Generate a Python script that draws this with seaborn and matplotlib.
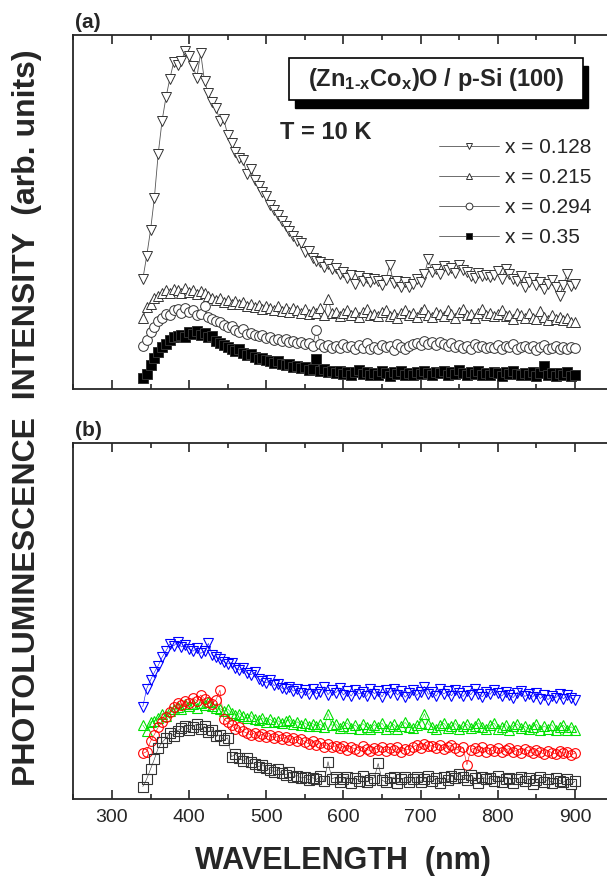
import numpy as np
import matplotlib
matplotlib.use("Agg")
import matplotlib.pyplot as plt
from matplotlib.patches import Rectangle
from matplotlib.ticker import MultipleLocator
import seaborn as sns

# wavelength grid (nm), values in % of panel height
wavelength = np.arange(340, 901, 5)

# panel (a), T = 10 K
a_x0128 = [31.0, 37.5, 44.8, 54.0, 66.5, 75.8, 82.4, 87.6, 92.3, 91.5,
           92.8, 95.6, 94.1, 91.2, 88.0, 95.0, 86.9, 83.5, 81.0, 79.3,
           75.8, 76.2, 71.8, 69.5, 67.0, 65.2, 64.6, 60.8, 62.3, 59.1,
           57.4, 55.8, 54.6, 52.1, 50.7, 49.3, 47.5, 46.0, 44.6, 43.3,
           41.8, 41.2, 38.6, 38.9, 37.1, 36.2, 35.8, 34.4, 35.2, 33.8,
           34.1, 32.5, 33.0, 31.4, 32.2, 29.8, 31.9, 30.6, 31.5, 30.2,
           31.0, 30.4, 29.3, 30.8, 35.0, 29.9, 30.5, 28.9, 30.1, 28.7,
           29.6, 31.2, 30.3, 32.4, 36.7, 33.1, 33.9, 32.6, 34.8, 33.5,
           34.1, 32.8, 35.0, 33.6, 33.2, 32.0, 31.4, 32.9, 31.9, 32.3,
           31.6, 32.1, 33.4, 31.2, 33.9, 32.5, 31.0, 30.6, 31.8, 28.7,
           30.2, 31.5, 29.4, 30.1, 28.3, 29.6, 30.8, 28.9, 26.4, 29.5,
           32.5, 29.1, 29.6]
a_x0215 = [20.2, 23.1, 24.0, 25.6, 26.4, 27.1, 27.9, 27.0, 28.4, 28.0,
           27.2, 28.6, 27.5, 28.1, 26.9, 27.6, 27.0, 26.2, 25.8, 25.1,
           25.6, 24.5, 25.2, 24.0, 24.8, 23.9, 24.5, 23.4, 24.1, 23.2,
           23.8, 22.7, 23.6, 22.9, 22.4, 23.5, 22.1, 22.8, 21.9, 23.0,
           22.2, 21.6, 22.5, 21.2, 22.0, 21.4, 22.8, 21.0, 25.4, 21.5,
           21.9, 20.6, 21.5, 22.3, 20.9, 21.7, 20.4, 21.8, 22.5, 20.8,
           21.3, 20.5, 21.9, 22.4, 20.7, 21.2, 20.1, 21.6, 22.2, 20.9,
           21.5, 20.3, 21.8, 22.6, 21.0, 20.4, 21.9, 21.2, 20.6, 22.4,
           21.1, 20.2, 21.7, 22.5, 20.8, 21.3, 20.0, 21.6, 22.7, 20.9,
           21.4, 20.5, 21.2, 22.3, 20.6, 21.0, 19.9, 21.5, 20.8, 20.2,
           21.6, 20.1, 19.7, 22.0, 20.4, 19.5, 20.9, 19.8, 20.3, 19.4,
           20.1, 19.0, 18.8]
a_x0294 = [12.1, 13.8, 16.0, 17.4, 19.2, 20.0, 21.3, 21.0, 22.3, 22.6,
           21.5, 23.0, 21.8, 22.4, 20.9, 21.2, 23.4, 20.3, 19.8, 19.2,
           18.9, 18.1, 17.6, 17.8, 16.7, 16.2, 16.9, 15.5, 15.8, 15.2,
           14.9, 15.3, 14.3, 14.6, 13.9, 14.2, 13.5, 14.0, 13.2, 13.6,
           13.0, 13.4, 12.6, 13.1, 12.3, 16.8, 12.8, 11.9, 12.5, 11.6,
           12.2, 11.5, 12.7, 11.8, 12.1, 11.2, 12.4, 11.7, 12.9, 11.4,
           12.0, 11.3, 12.5, 11.8, 12.2, 11.1, 12.6, 11.9, 11.4, 12.3,
           12.6, 13.1, 12.4, 13.5, 12.8, 13.2, 12.5, 13.4, 12.7, 12.1,
           12.9, 11.8, 12.4, 11.6, 12.2, 11.3, 12.7, 11.9, 12.3, 11.5,
           12.0, 11.7, 12.5, 11.2, 12.1, 11.8, 12.6, 11.4, 11.9, 12.3,
           11.5, 12.2, 11.0, 11.8, 12.4, 11.3, 11.7, 12.1, 11.2, 11.9,
           11.4, 12.0, 11.6]
a_x035 = [3.1, 4.3, 6.8, 8.9, 10.4, 11.9, 12.8, 13.9, 14.6, 15.1,
          15.4, 14.8, 16.0, 15.6, 16.3, 15.2, 15.7, 14.6, 14.9, 13.5,
          13.0, 12.4, 11.8, 11.3, 10.7, 11.2, 10.1, 9.6, 9.9, 9.1,
          8.6, 8.9, 8.1, 7.8, 7.4, 7.9, 7.0, 6.7, 7.2, 6.3,
          6.5, 5.9, 6.1, 5.4, 5.8, 8.5, 5.0, 5.6, 4.7, 5.2,
          4.5, 5.1, 4.3, 4.9, 4.0, 4.7, 5.3, 4.2, 4.8, 3.9,
          4.6, 4.1, 5.0, 4.4, 3.8, 4.7, 4.2, 5.1, 4.0, 4.5,
          3.9, 4.8, 4.3, 5.2, 4.6, 4.0, 4.9, 4.4, 5.0, 4.1,
          4.7, 4.2, 5.3, 4.5, 3.9, 4.8, 4.3, 5.0, 4.1, 4.6,
          4.0, 4.9, 4.4, 3.8, 4.7, 4.2, 5.1, 4.3, 3.9, 4.6,
          4.1, 4.8, 3.7, 4.5, 6.5, 4.0, 4.6, 3.6, 4.4, 3.9,
          4.7, 3.8, 4.1]

# panel (b)
b_blue = [25.9, 31.0, 33.4, 35.6, 37.5, 39.8, 41.6, 43.5, 43.0, 44.1,
          42.7, 43.3, 42.2, 41.5, 42.4, 40.9, 41.6, 43.7, 40.4, 39.8,
          39.2, 38.6, 37.9, 38.3, 36.9, 36.2, 36.8, 35.4, 34.9, 35.6,
          33.8, 33.2, 32.6, 33.4, 31.9, 32.3, 31.2, 30.8, 31.6, 30.3,
          30.9, 29.8, 30.5, 29.4, 30.8, 29.6, 30.2, 31.5, 29.3, 30.6,
          29.8, 31.2, 29.2, 30.4, 28.9, 30.7, 29.5, 30.1, 28.8, 30.9,
          29.6, 30.3, 28.7, 30.5, 29.9, 31.0, 29.2, 30.4, 28.6, 29.8,
          30.6, 29.1, 30.2, 31.6, 29.4, 30.0, 28.9, 30.8, 29.5, 30.3,
          29.0, 30.5, 29.7, 28.8, 30.4, 29.3, 30.9, 29.6, 28.7, 30.2,
          29.4, 30.7, 29.8, 28.9, 30.1, 29.2, 28.5, 29.9, 30.4, 28.8,
          29.5, 28.6, 29.9, 28.2, 29.3, 27.9, 29.0, 28.4, 29.6, 28.1,
          29.2, 28.3, 27.8]
b_green = [20.8, 19.2, 21.6, 22.0, 22.8, 24.0, 23.3, 24.6, 25.2, 25.9,
           25.3, 26.6, 26.0, 26.8, 25.7, 27.1, 26.4, 27.3, 26.1, 25.6,
           25.4, 24.8, 25.3, 24.1, 23.5, 24.0, 23.2, 22.7, 23.4, 22.5,
           22.1, 22.8, 21.7, 22.4, 21.5, 22.0, 21.3, 21.9, 22.3, 21.1,
           21.7, 20.9, 21.4, 20.6, 21.2, 20.5, 21.0, 20.2, 24.0, 20.7,
           21.1, 19.9, 20.6, 21.4, 20.0, 20.8, 19.6, 21.2, 20.3, 19.8,
           20.9, 20.1, 21.3, 19.7, 20.4, 21.0, 19.8, 20.6, 21.5, 20.2,
           19.9, 20.7, 21.4, 24.0, 21.0, 20.3, 19.8, 20.9, 21.3, 20.0,
           20.6, 21.2, 19.7, 20.4, 21.0, 19.9, 20.5, 21.4, 20.1, 19.6,
           20.8, 21.3, 19.8, 20.3, 20.9, 19.5, 20.6, 21.1, 19.9, 20.4,
           19.6, 20.2, 21.0, 19.4, 20.5, 19.8, 20.9, 19.3, 20.1, 20.7,
           19.5, 20.3, 19.5]
b_red = [12.8, 13.3, 16.2, 18.1, 20.2, 21.6, 23.0, 24.5, 25.8, 26.9,
         26.3, 27.5, 27.0, 28.4, 27.6, 29.2, 28.1, 27.3, 26.8, 27.9,
         30.6, 22.4, 21.6, 20.8, 19.6, 20.1, 19.0, 18.5, 18.0, 18.6,
         17.7, 18.2, 17.4, 17.9, 17.2, 17.6, 16.9, 17.3, 16.7, 17.1,
         16.4, 16.9, 16.1, 15.5, 16.3, 15.2, 15.8, 14.7, 15.4, 14.5,
         15.0, 14.3, 14.9, 13.8, 14.6, 14.1, 13.6, 14.8, 14.0, 13.5,
         14.4, 13.9, 14.7, 13.4, 14.2, 13.7, 14.5, 13.3, 14.1, 13.8,
         14.6, 15.2, 14.3, 15.5, 14.8, 15.0, 14.4, 15.3, 14.0, 14.7,
         15.1, 14.2, 13.6, 14.5, 9.6, 13.9, 14.3, 13.5, 14.6, 13.2,
         14.0, 13.4, 14.4, 13.1, 13.8, 14.2, 13.3, 13.7, 12.9, 14.1,
         13.5, 12.8, 13.9, 13.2, 12.6, 13.6, 13.0, 12.7, 13.4, 12.9,
         13.3, 12.5, 12.8]
b_black = [3.5, 5.6, 8.4, 11.2, 14.3, 15.9, 17.1, 18.5, 17.8, 19.2,
           19.9, 20.5, 19.4, 20.3, 21.1, 19.7, 20.4, 18.9, 19.5, 17.6,
           18.0, 16.6, 17.2, 11.9, 12.6, 11.4, 10.8, 11.5, 10.3, 9.9,
           9.1, 9.6, 8.7, 8.2, 7.7, 8.3, 7.2, 6.8, 7.5, 6.3,
           6.6, 5.9, 6.2, 5.3, 6.0, 5.5, 6.4, 5.1, 10.5, 5.7,
           6.1, 4.8, 5.6, 6.3, 4.6, 5.9, 5.2, 6.5, 4.9, 5.4,
           6.0, 10.0, 5.3, 4.7, 5.8, 6.2, 4.5, 5.5, 6.1, 4.8,
           5.6, 6.3, 4.9, 5.7, 6.4, 5.0, 5.9, 4.6, 6.2, 5.3,
           6.5, 5.8, 7.0, 6.1, 5.4, 6.7, 5.9, 4.4, 6.3, 5.6,
           5.9, 5.2, 6.4, 4.8, 5.7, 6.0, 4.5, 5.5, 6.2, 5.1,
           5.8, 4.3, 5.4, 6.1, 4.9, 5.5, 4.6, 5.9, 5.2, 4.7,
           5.6, 4.2, 5.0]

labels_a = ["x = 0.128", "x = 0.215", "x = 0.294", "x = 0.35"]
series_a = [a_x0128, a_x0215, a_x0294, a_x035]
markers = ["v", "^", "o", "s"]
series_b = [b_blue, b_green, b_red, b_black]
colors_b = ["#0000ff", "#00e000", "#ff0000", "#333333"]

sns.set_style("ticks")
plt.rcParams["font.family"] = ["Liberation Sans", "DejaVu Sans"]
plt.rcParams["mathtext.fontset"] = "custom"
plt.rcParams["mathtext.bf"] = "Liberation Sans:bold"
plt.rcParams["mathtext.rm"] = "Liberation Sans:bold"
plt.rcParams["mathtext.default"] = "bf"

fig = plt.figure(figsize=(6.07, 8.77), dpi=100)
ax_a = fig.add_axes([0.1208, 0.5564, 0.8900, 0.4036])
ax_b = fig.add_axes([0.1208, 0.0889, 0.8900, 0.4060])

# panel (a): gray open markers + black squares
for vals, mk, lab in zip(series_a, markers, labels_a):
    fill = "black" if mk == "s" else "white"
    sns.lineplot(x=wavelength, y=vals, ax=ax_a, marker=mk, markersize=7,
                 mfc=fill, mec="#333333", mew=0.7, color="#555555", lw=0.6,
                 sort=False, estimator=None, label=lab)
handles, labs = ax_a.get_legend_handles_labels()

# panel (b): coloured open markers
for vals, mk, c in zip(series_b, markers, colors_b):
    sns.lineplot(x=wavelength, y=vals, ax=ax_b, marker=mk, markersize=7,
                 mfc="none", mec=c, mew=0.8, color=c, lw=0.4,
                 sort=False, estimator=None)

for ax in (ax_a, ax_b):
    ax.set_xlim(250, 950)
    ax.set_ylim(0, 100)
    ax.set_yticks([])
    ax.set_xlabel("")
    ax.set_ylabel("")
    ax.xaxis.set_major_locator(MultipleLocator(100))
    ax.xaxis.set_minor_locator(MultipleLocator(50))
    ax.tick_params(axis="x", which="both", direction="in", top=True, bottom=True,
                   width=1.2, labelsize=14, pad=7)
    ax.tick_params(axis="x", which="major", length=6.5)
    ax.tick_params(axis="x", which="minor", length=3.6)
    ax.spines["right"].set_visible(False)
    for s in ("left", "top", "bottom"):
        ax.spines[s].set_linewidth(1.3)
    if ax.get_legend() is not None:
        ax.get_legend().remove()
ax_a.tick_params(axis="x", labelbottom=False)

ax_a.legend(handles, labs, loc="upper left", bbox_to_anchor=(0.677, 0.708),
            frameon=False, fontsize=15, handlelength=2.9, handletextpad=0.25,
            labelspacing=0.52, borderpad=0, borderaxespad=0, markerscale=0.7)

# sample box with black shadow
tr = ax_a.transAxes
ax_a.add_patch(Rectangle((0.411, 0.794), 0.541, 0.119, transform=tr,
                         fc="black", ec="black", lw=1, zorder=5))
ax_a.add_patch(Rectangle((0.3995, 0.816), 0.5435, 0.119, transform=tr,
                         fc="white", ec="black", lw=1.2, zorder=6))
ax_a.text(0.671, 0.874, r"(Zn$_{1\text{-}x}$Co$_{x}$)O / p-Si (100)", transform=tr,
          ha="center", va="center", fontsize=17, fontweight="bold", zorder=7)
ax_a.text(0.4665, 0.726, "T = 10 K", transform=tr, ha="center",
          va="center", fontsize=17, fontweight="bold")

fig.text(75 / 607, 1 - 22 / 877, "(a)", ha="left", va="center", fontsize=15, fontweight="bold")
fig.text(75 / 607, 1 - 431 / 877, "(b)", ha="left", va="center", fontsize=15, fontweight="bold")
fig.text(0.045, 0.5235, "PHOTOLUMINESCENCE  INTENSITY  (arb. units)", rotation=90,
         ha="center", va="center", fontsize=23, fontweight="bold")
fig.text(0.565, 0.0182, "WAVELENGTH  (nm)", ha="center", va="center",
         fontsize=22, fontweight="bold")

fig.savefig("out.png", dpi=100)
